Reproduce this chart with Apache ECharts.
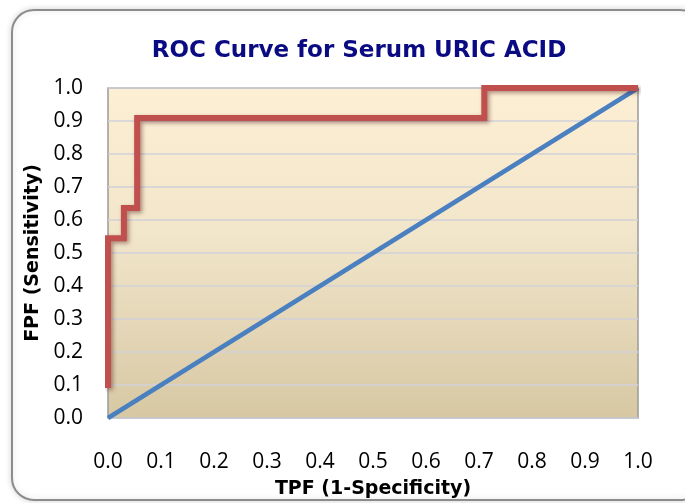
<!DOCTYPE html>
<html><head><meta charset="utf-8">
<script src="https://cdn.jsdelivr.net/npm/echarts@6/dist/echarts.min.js"></script>
<style>html,body{margin:0;padding:0;background:#fff}#c{width:685px;height:503px}</style>
</head><body><div id="c"></div>
<script>
const titleText = 'ROC Curve for Serum URIC ACID';
const xName = 'TPF (1-Specificity)';
const yName = 'FPF (Sensitivity)';
const rocX = [0, 0, 0.03, 0.03, 0.055, 0.055, 0.71, 0.71, 1.0];
const rocY = [0.091, 0.545, 0.545, 0.636, 0.636, 0.909, 0.909, 1.0, 1.0];
const refX = [0, 1];
const refY = [0, 1];

const chart = echarts.init(document.getElementById('c'), null, {renderer: 'canvas'});
const font = '"Open Sans", "Liberation Sans", sans-serif';
const boldFont = '"DejaVu Sans", "Open Sans", sans-serif';
chart.setOption({
  animation: false,
  backgroundColor: '#fff',
  graphic: [{
    type: 'rect', left: 11, top: 9, z: -10,
    shape: {width: 690, height: 490, r: 22},
    style: {fill: '#fff', stroke: '#8c8c8c', lineWidth: 2, shadowBlur: 6, shadowColor: 'rgba(0,0,0,0.15)'}
  }],
  title: {
    text: titleText, left: 354, textAlign: 'center', top: 35,
    textStyle: {fontFamily: boldFont, fontSize: 23, fontWeight: 'bold', color: '#0a0a82'}
  },
  grid: {
    left: 108, right: 47, top: 88, bottom: 85, show: true,
    outerBoundsMode: 'none', containLabel: false,
    borderColor: '#9a9a9a', borderWidth: 1.5,
    backgroundColor: new echarts.graphic.LinearGradient(0, 0, 0, 1, [
      {offset: 0, color: '#fdefd4'},
      {offset: 0.45, color: '#f1e5ca'},
      {offset: 1, color: '#d7c8a3'}
    ])
  },
  xAxis: {
    type: 'value', min: 0, max: 1, interval: 0.1,
    name: xName, nameLocation: 'middle', nameGap: 62,
    nameTextStyle: {fontFamily: boldFont, fontSize: 19, fontWeight: 'bold', color: '#000'},
    axisLine: {show: false}, axisTick: {show: false}, splitLine: {show: false},
    axisLabel: {margin: 34, fontFamily: font, fontSize: 21, color: '#000', formatter: v => v.toFixed(1)}
  },
  yAxis: {
    type: 'value', min: 0, max: 1, interval: 0.1,
    name: yName, nameLocation: 'middle', nameGap: 54,
    nameTextStyle: {fontFamily: boldFont, fontSize: 19, fontWeight: 'bold', color: '#000'},
    axisLine: {show: false}, axisTick: {show: false},
    splitLine: {show: true, lineStyle: {color: '#d0d0d8', width: 1.5}},
    axisLabel: {margin: 25, fontFamily: font, fontSize: 21, color: '#000', formatter: v => v.toFixed(1)}
  },
  series: [{
    type: 'line', data: refX.map((x, i) => [x, refY[i]]), showSymbol: false,
    lineStyle: {color: '#4a7fc0', width: 4.5}, z: 2
  }, {
    type: 'line', data: rocX.map((x, i) => [x, rocY[i]]), showSymbol: false,
    lineStyle: {color: '#c0504d', width: 6, shadowBlur: 4, shadowColor: 'rgba(80,20,20,0.45)', shadowOffsetX: 2, shadowOffsetY: 2, join: 'miter'}, z: 3
  }]
});
</script></body></html>
